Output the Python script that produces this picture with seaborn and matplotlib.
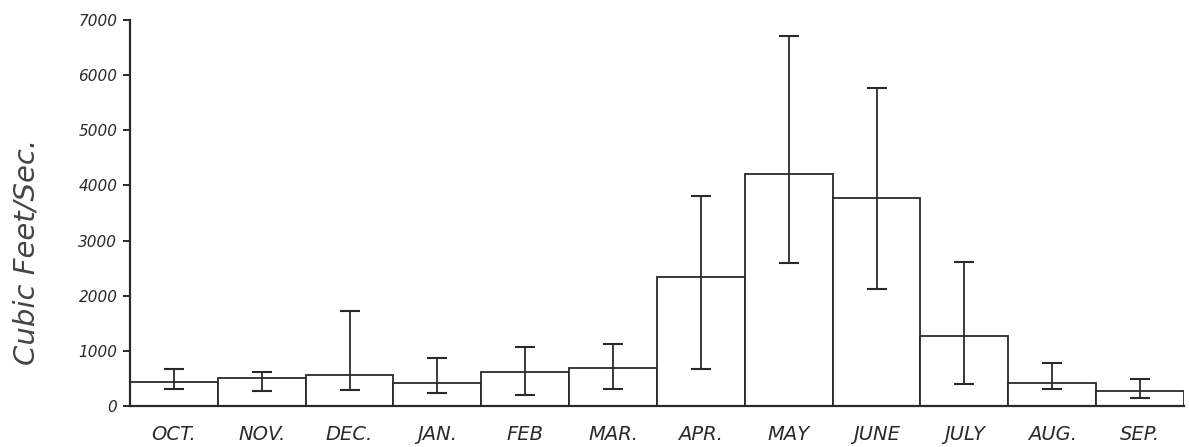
import numpy as np
import pandas as pd
import seaborn as sns
import matplotlib.pyplot as plt

months = ["OCT.", "NOV.", "DEC.", "JAN.", "FEB", "MAR.", "APR.", "MAY", "JUNE", "JULY", "AUG.", "SEP."]
mean_flow = [440, 507, 560, 420, 620, 683, 2342, 4208, 3780, 1274, 422, 272]
err_high = [670, 620, 1720, 875, 1070, 1123, 3810, 6708, 5773, 2620, 773, 484]
err_low = [310, 270, 290, 240, 200, 313, 665, 2590, 2114, 393, 302, 140]
yticks = [0, 1000, 2000, 3000, 4000, 5000, 6000, 7000]

df = pd.DataFrame({"month": months, "flow": mean_flow, "hi": err_high, "lo": err_low})

sns.set_style("white")
plt.rcParams["font.family"] = ["DejaVu Sans"]
ink = "#2a2a2a"

fig = plt.figure(figsize=(11.89, 4.47), dpi=100)
ax = fig.add_axes([0.1093, 0.0917, 0.8865, 0.8633])

sns.barplot(data=df, x="month", y="flow", width=1.0, color="white",
            edgecolor=ink, linewidth=1.3, errorbar=None, ax=ax)

x = np.arange(len(df))
ax.errorbar(x, df["flow"], yerr=[df["flow"] - df["lo"], df["hi"] - df["flow"]],
            fmt="none", ecolor=ink, elinewidth=1.3, capsize=7, capthick=1.5)

ax.set_xlim(-0.5, len(df) - 0.5)
ax.set_ylim(0, 7000)
ax.set_yticks(yticks)
ax.set_yticklabels([str(t) for t in yticks], fontsize=11, style="italic", color=ink)
ax.tick_params(axis="y", direction="out", length=5, width=1.4, color=ink, pad=4, left=True)
ax.tick_params(axis="x", length=0, pad=14, labelsize=14, labelcolor=ink)
for lab in ax.get_xticklabels():
    lab.set_style("italic")

ax.set_xlabel("")
ax.set_ylabel("Cubic Feet/Sec.", fontsize=21, style="italic", color="#444444")
ax.yaxis.set_label_coords(-0.085, 0.40)

sns.despine(ax=ax, top=True, right=True)
for side in ["left", "bottom"]:
    ax.spines[side].set_color(ink)
    ax.spines[side].set_linewidth(1.6)

fig.savefig("out.png", dpi=100)
